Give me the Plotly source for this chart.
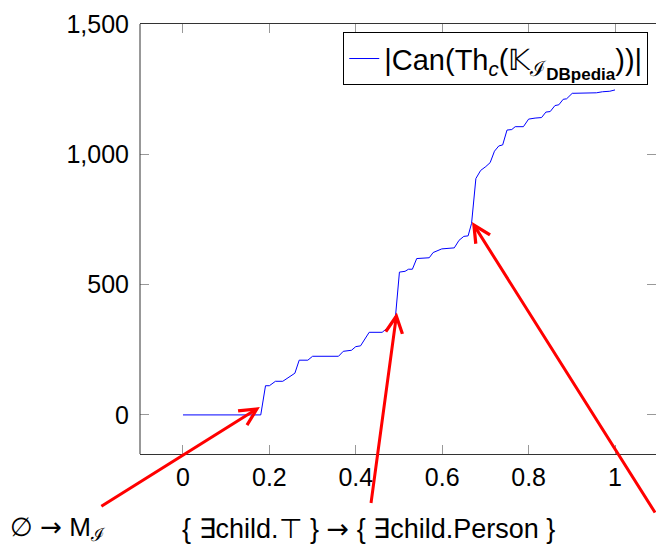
import plotly.graph_objects as go

# data
x_vals = [0, 0.18, 0.191, 0.20, 0.214, 0.231, 0.259, 0.269, 0.289, 0.30, 0.36, 0.371,
          0.39, 0.40, 0.411, 0.431, 0.461, 0.479, 0.492, 0.501, 0.514, 0.522, 0.531,
          0.541, 0.570, 0.579, 0.599, 0.628, 0.639, 0.650, 0.660, 0.668, 0.678, 0.689,
          0.701, 0.711, 0.721, 0.731, 0.740, 0.750, 0.761, 0.769, 0.788, 0.800, 0.815,
          0.830, 0.840, 0.850, 0.861, 0.870, 0.880, 0.888, 0.901, 0.927, 0.957, 0.971,
          0.988, 1.0]
y_vals = [0, 0, 112, 112, 129, 129, 160, 210, 210, 225, 225, 244,
          248, 262, 265, 317, 317, 341, 380, 548, 551, 559, 559,
          600, 603, 623, 637, 641, 670, 685, 687, 735, 907, 938,
          953, 968, 1012, 1032, 1036, 1093, 1095, 1106, 1106, 1135, 1139,
          1141, 1162, 1164, 1187, 1190, 1211, 1213, 1234, 1236, 1236, 1240,
          1242, 1247]

series_name = ("|Can(Th<sub><i>c</i></sub>(𝕂"
               "<sub><span style='font-size:21px'>ℐ</span><sub>"
               "<span style='font-size:17px;font-weight:bold'>DBpedia</span>"
               "</sub></sub>))|")

x_ticks = [0, 0.2, 0.4, 0.6, 0.8, 1]
x_tick_text = ["0", "0.2", "0.4", "0.6", "0.8", "1"]
y_ticks = [0, 500, 1000, 1500]
y_tick_text = ["0", "500", "1,000", "1,500"]

# annotated change points: (x, y) of arrow head on the curve
arrow_heads = [(0.178, 30), (0.495, 393), (0.669, 740)]
arrow_tails_px = [(-160, 100), (-26, 192), (190, 292)]

ARR = "<span style='font-family:DejaVu Sans'>→</span>"
bottom_labels = ["∅ " + ARR + " M<sub>ℐ</sub>",
                 "{ ∃child.⊤ } " + ARR + " { ∃child.Person }"]

FONT = "Liberation Sans"

fig = go.Figure()
fig.add_trace(go.Scatter(x=x_vals, y=y_vals, mode="lines", name=series_name,
                         line=dict(color="#0000ff", width=1)))

fig.update_layout(
    width=656, height=544,
    margin=dict(l=140, r=0, t=24, b=90),
    plot_bgcolor="white", paper_bgcolor="white",
    font=dict(family=FONT, size=25, color="black"),
    showlegend=True,
    legend=dict(x=0.985, y=0.981, xanchor="right", yanchor="top",
                bordercolor="black", borderwidth=1, bgcolor="white",
                font=dict(family=FONT, size=29), itemwidth=30),
    xaxis=dict(range=[-0.0995, 1.0949], tickvals=x_ticks, ticktext=x_tick_text,
               showgrid=False, zeroline=False, showline=True, linecolor="#333",
               linewidth=1, mirror="ticks", ticks="inside", ticklen=9,
               tickcolor="#999", ticklabelstandoff=1),
    yaxis=dict(range=[-150, 1500], tickvals=y_ticks, ticktext=y_tick_text,
               showgrid=False, zeroline=False, showline=False,
               mirror="ticks", ticks="inside", ticklen=9,
               tickcolor="#999", ticklabelstandoff=10),
)

# left frame line
fig.add_shape(type="line", xref="paper", yref="paper", x0=0, x1=0, y0=0, y1=1,
              line=dict(color="#333", width=1))

for (hx, hy), (ax, ay) in zip(arrow_heads, arrow_tails_px):
    fig.add_annotation(x=hx, y=hy, xref="x", yref="y", ax=ax, ay=ay, text="",
                       showarrow=True, arrowhead=5, arrowsize=1.1, arrowwidth=3,
                       arrowcolor="#ff0000", standoff=0)

label_px = [(8, 528, 26), (180, 528, 27)]
for txt, (px, py, fs) in zip(bottom_labels, label_px):
    fig.add_annotation(x=(px - 140) / 516, y=(454 - py) / 430, xref="paper", yref="paper",
                       text=txt, showarrow=False, xanchor="left", yanchor="middle",
                       font=dict(size=fs))

fig.write_html("out.html")
